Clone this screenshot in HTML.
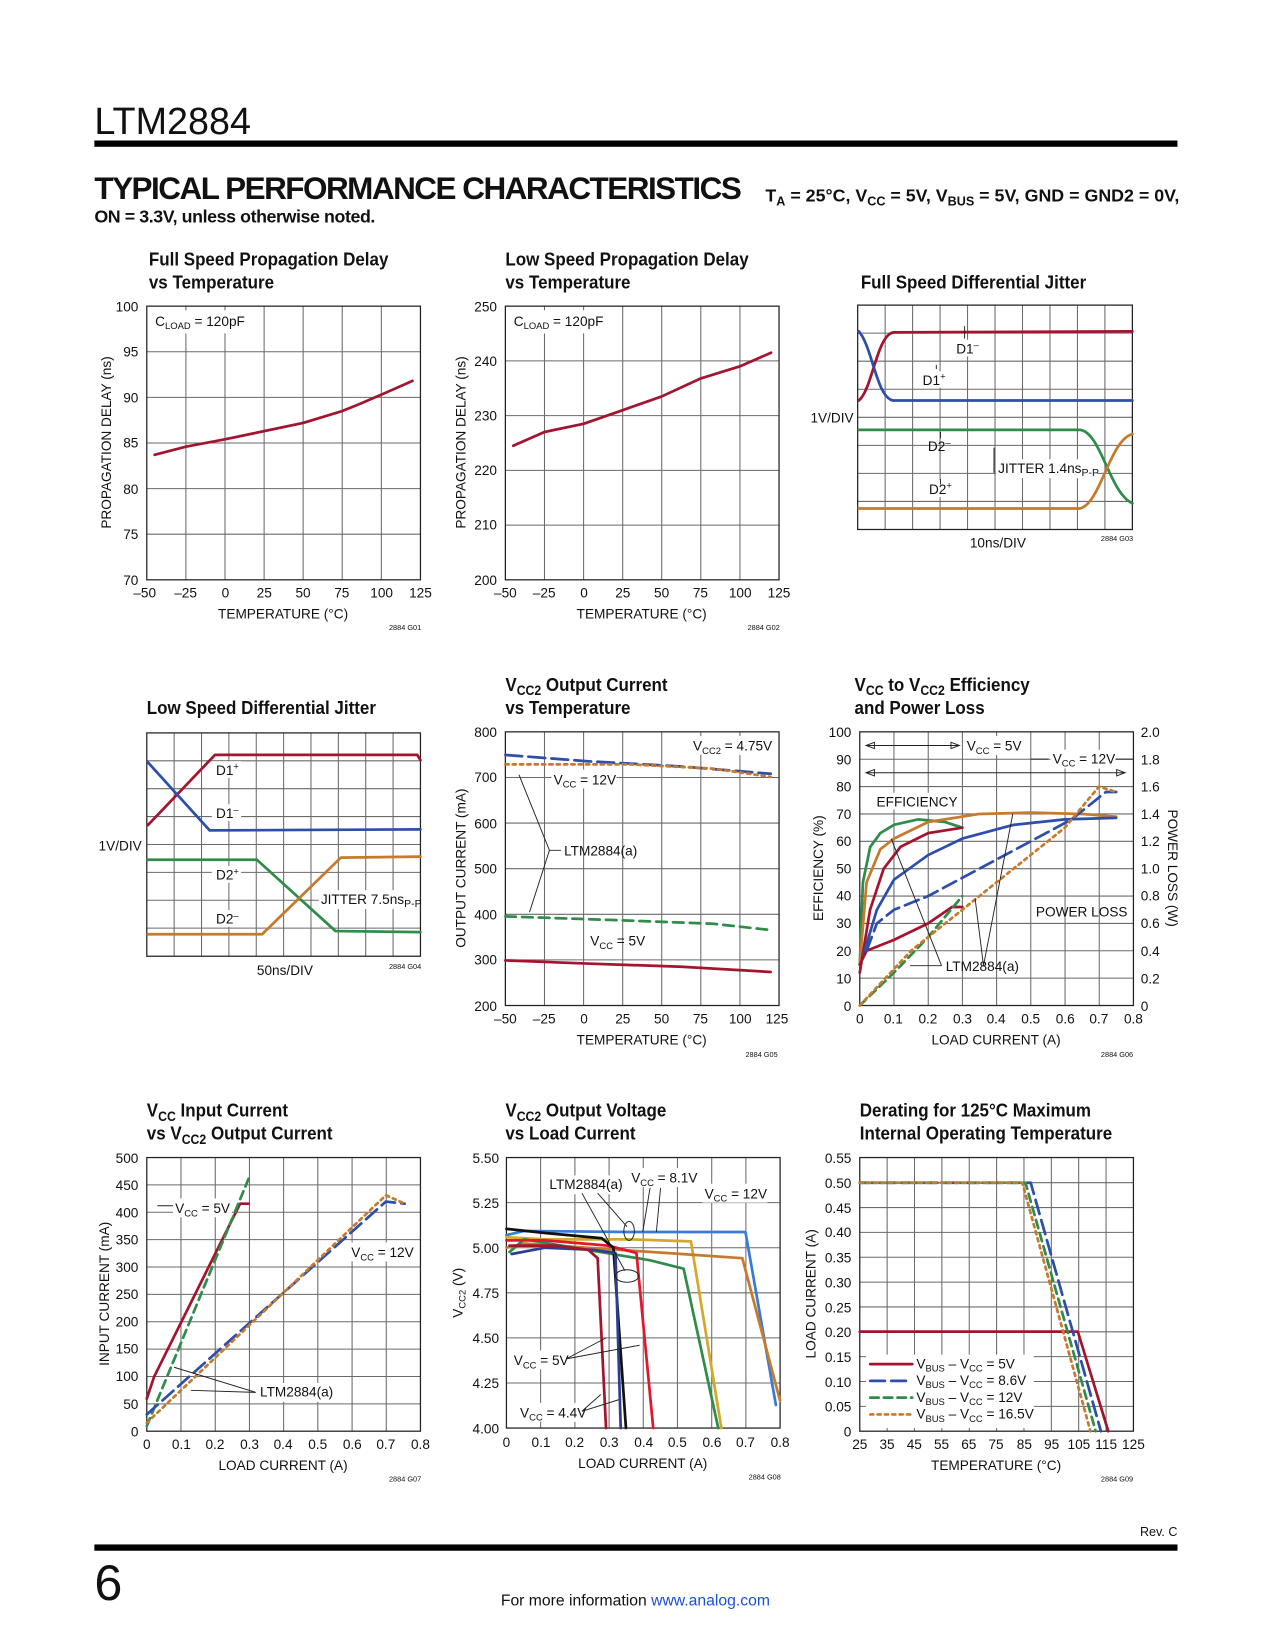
<!DOCTYPE html>
<html><head><meta charset="utf-8"><style>
html,body{margin:0;padding:0;background:#fff}
svg{display:block}
text{font-family:"Liberation Sans Narrow","Liberation Sans",sans-serif;fill:#111}
.t{font-weight:bold;font-size:18px}
.tk{font-size:13px}
.lb{font-size:13px}
.sm{font-size:7px}
.g{stroke:#6a6a6a;stroke-width:1;fill:none}
.f{stroke:#222;stroke-width:1.2;fill:none}
.c{fill:none;stroke-width:2.6;stroke-linejoin:round;stroke-linecap:round}
.r{stroke:#a3152f}.b{stroke:#2d4eaa}.gr{stroke:#2f8c49}.o{stroke:#c67a2c}
.a{stroke:#222;stroke-width:0.9;fill:none}
</style></head><body>
<svg width="1275" height="1650" viewBox="0 0 1275 1650" xmlns="http://www.w3.org/2000/svg">
<g transform="scale(1.0485)">
<text x="90" y="128" style="font-family:'Liberation Sans',sans-serif;font-size:36px">LTM2884</text>
<rect x="90" y="134" width="1033" height="6" fill="#000"/>
<text x="90" y="190" style="font-family:'Liberation Sans',sans-serif;font-weight:900;font-size:30px;letter-spacing:0.5px" textLength="618">TYPICAL PERFORMANCE CHARACTERISTICS</text>
<text x="730" y="192" style="font-weight:bold;font-size:17px">T<tspan font-size="12" dy="4">A</tspan><tspan dy="-4"> = 25°C, V</tspan><tspan font-size="12" dy="4">CC</tspan><tspan dy="-4"> = 5V, V</tspan><tspan font-size="12" dy="4">BUS</tspan><tspan dy="-4"> = 5V, GND = GND2 = 0V,</tspan></text>
<text x="90" y="212" style="font-weight:bold;font-size:17px" textLength="268">ON = 3.3V, unless otherwise noted.</text>

<!-- Chart 1 -->
<text class="t" x="142" y="253" transform="matrix(0.9 0 0 1 14.2 0)">Full Speed Propagation Delay</text>
<text class="t" x="142" y="275" transform="matrix(0.9 0 0 1 14.2 0)">vs Temperature</text>
<path class="g" d="M177.3 292V553M214.6 292V553M251.9 292V553M289.1 292V553M326.4 292V553M363.7 292V553M140 509.5H401M140 466H401M140 422.5H401M140 379H401M140 335.5H401"/>
<rect class="f" x="140" y="292" width="261" height="261"/>
<rect x="144" y="296" width="92" height="22" fill="#fff"/>
<text class="lb" x="148" y="311">C<tspan font-size="9" dy="3">LOAD</tspan><tspan dy="-3"> = 120pF</tspan></text>
<polyline class="c r" points="147.5,433.8 177.3,426 214.6,419 251.9,411.2 289.1,403.4 326.4,392 341.3,386 363.7,376.4 393.4,363.3"/>
<g class="tk" text-anchor="end"><text x="132" y="297">100</text><text x="132" y="340">95</text><text x="132" y="384">90</text><text x="132" y="427">85</text><text x="132" y="471">80</text><text x="132" y="514">75</text><text x="132" y="558">70</text></g>
<g class="tk" text-anchor="middle"><text x="138" y="570">–50</text><text x="177" y="570">–25</text><text x="215" y="570">0</text><text x="252" y="570">25</text><text x="289" y="570">50</text><text x="326" y="570">75</text><text x="364" y="570">100</text><text x="401" y="570">125</text>
<text x="270" y="590">TEMPERATURE (°C)</text></g>
<text class="lb" transform="translate(106,422) rotate(-90)" text-anchor="middle" font-size="12">PROPAGATION DELAY (ns)</text>
<text class="sm" x="371" y="601">2884 G01</text>

<!-- Chart 2 -->
<text class="t" x="482" y="253" transform="matrix(0.9 0 0 1 48.2 0)">Low Speed Propagation Delay</text>
<text class="t" x="482" y="275" transform="matrix(0.9 0 0 1 48.2 0)">vs Temperature</text>
<path class="g" d="M519.3 292V553M556.6 292V553M593.9 292V553M631.1 292V553M668.4 292V553M705.7 292V553M482 500.8H743M482 448.6H743M482 396.4H743M482 344.2H743"/>
<rect class="f" x="482" y="292" width="261" height="261"/>
<rect x="486" y="296" width="92" height="22" fill="#fff"/>
<text class="lb" x="490" y="311">C<tspan font-size="9" dy="3">LOAD</tspan><tspan dy="-3"> = 120pF</tspan></text>
<polyline class="c r" points="489.5,425.1 519.3,412 556.6,404.2 593.9,391.2 631.1,378.1 668.4,360.9 705.7,349.4 735.4,336.4"/>
<g class="tk" text-anchor="end"><text x="474" y="297">250</text><text x="474" y="349">240</text><text x="474" y="401">230</text><text x="474" y="453">220</text><text x="474" y="505">210</text><text x="474" y="558">200</text></g>
<g class="tk" text-anchor="middle"><text x="482" y="570">–50</text><text x="519" y="570">–25</text><text x="557" y="570">0</text><text x="594" y="570">25</text><text x="631" y="570">50</text><text x="668" y="570">75</text><text x="706" y="570">100</text><text x="743" y="570">125</text>
<text x="612" y="590">TEMPERATURE (°C)</text></g>
<text class="lb" transform="translate(444,422) rotate(-90)" text-anchor="middle" font-size="12">PROPAGATION DELAY (ns)</text>
<text class="sm" x="713" y="601">2884 G02</text>

<!-- Chart 3 -->
<text class="t" x="821" y="275" transform="matrix(0.9 0 0 1 82.1 0)">Full Speed Differential Jitter</text>
<path class="g" d="M844.2 291V505M870.4 291V505M896.6 291V505M922.8 291V505M949 291V505M975.2 291V505M1001.4 291V505M1027.6 291V505M1053.8 291V505M818 317.75H1080M818 344.5H1080M818 371.25H1080M818 398H1080M818 424.75H1080M818 451.5H1080M818 478.25H1080"/>
<rect class="f" x="818" y="291" width="262" height="214"/>
<path class="c r" d="M819 382C832 372 836 320 852 317L1080 316"/>
<path class="c b" d="M819 316C832 330 836 380 852 382L1080 382"/>
<path class="c gr" d="M819 410L1030 410C1050 412 1058 470 1080 480"/>
<path class="c o" d="M819 485L1030 485C1050 480 1058 420 1080 414"/>
<rect x="908" y="324" width="28" height="16" fill="#fff"/><text class="lb" x="912" y="337">D1<tspan font-size="9" dy="-5">–</tspan></text>
<rect x="876" y="354" width="28" height="16" fill="#fff"/><text class="lb" x="880" y="367">D1<tspan font-size="9" dy="-5">+</tspan></text>
<text class="lb" x="885" y="430">D2<tspan font-size="9" dy="-5">–</tspan></text>
<rect x="882" y="458" width="28" height="16" fill="#fff"/><text class="lb" x="886" y="471">D2<tspan font-size="9" dy="-5">+</tspan></text>
<rect x="950" y="438" width="96" height="18" fill="#fff"/><text class="lb" x="952" y="451">JITTER 1.4ns<tspan font-size="10" dy="3">P-P</tspan></text>
<path class="a" d="M920 323V311M893 352V348M897 418V412M897 457V462M948 451V427"/>
<text class="lb" x="773" y="403">1V/DIV</text>
<text class="lb" x="925" y="522">10ns/DIV</text>
<text class="sm" x="1050" y="516">2884 G03</text>

<!-- Chart 4 -->
<text class="t" x="140" y="681" transform="matrix(0.9 0 0 1 14 0)">Low Speed Differential Jitter</text>
<path class="g" d="M166.1 699V912M192.2 699V912M218.3 699V912M244.4 699V912M270.5 699V912M296.6 699V912M322.7 699V912M348.8 699V912M374.9 699V912M140 725.6H401M140 752.2H401M140 778.8H401M140 805.4H401M140 832H401M140 858.6H401M140 885.2H401"/>
<rect class="f" x="140" y="699" width="261" height="213"/>
<path class="c r" d="M141 787L205 720L398 720L401 725"/>
<path class="c b" d="M141 727L200 792L401 791"/>
<path class="c gr" d="M141 820L245 820L320 888L401 889"/>
<path class="c o" d="M141 891L250 891L325 818L401 817"/>
<rect x="202" y="726" width="28" height="16" fill="#fff"/><text class="lb" x="206" y="739">D1<tspan font-size="9" dy="-5">+</tspan></text>
<rect x="202" y="767" width="28" height="16" fill="#fff"/><text class="lb" x="206" y="780">D1<tspan font-size="9" dy="-5">–</tspan></text>
<rect x="202" y="826" width="28" height="16" fill="#fff"/><text class="lb" x="206" y="839">D2<tspan font-size="9" dy="-5">+</tspan></text>
<rect x="202" y="868" width="28" height="16" fill="#fff"/><text class="lb" x="206" y="881">D2<tspan font-size="9" dy="-5">–</tspan></text>
<rect x="304" y="849" width="96" height="18" fill="#fff"/><text class="lb" x="306" y="862">JITTER 7.5ns<tspan font-size="10" dy="3">P-P</tspan></text>
<text class="lb" x="94" y="811">1V/DIV</text>
<text class="lb" x="245" y="930">50ns/DIV</text>
<text class="sm" x="371" y="924">2884 G04</text>

<!-- Chart 5 -->
<text class="t" x="482" y="659" transform="matrix(0.9 0 0 1 48.2 0)">V<tspan font-size="13" dy="4">CC2</tspan><tspan dy="-4"> Output Current</tspan></text>
<text class="t" x="482" y="681" transform="matrix(0.9 0 0 1 48.2 0)">vs Temperature</text>
<path class="g" d="M519.3 698V959M556.6 698V959M593.9 698V959M631.1 698V959M668.4 698V959M705.7 698V959M482 915.5H743M482 872H743M482 828.5H743M482 785H743M482 741.5H743"/>
<rect class="f" x="482" y="698" width="261" height="261"/>
<polyline class="c b" stroke-dasharray="16,6" points="482,720 560,726 650,731 735,738"/>
<polyline class="c o" stroke-dasharray="3,4" points="482,729 600,729 680,733 735,741"/>
<polyline class="c gr" stroke-dasharray="10,6" points="482,874 600,878 680,881 735,887"/>
<polyline class="c r" points="482,916 560,919 650,922 735,927"/>
<rect x="659" y="702" width="78" height="18" fill="#fff"/><text class="lb" x="661" y="716">V<tspan font-size="9" dy="3">CC2</tspan><tspan dy="-3"> = 4.75V</tspan></text>
<rect x="526" y="734" width="62" height="18" fill="#fff"/><text class="lb" x="528" y="748">V<tspan font-size="9" dy="3">CC</tspan><tspan dy="-3"> = 12V</tspan></text>
<text class="lb" x="538" y="816">LTM2884(a)</text>
<text class="lb" x="563" y="902">V<tspan font-size="9" dy="3">CC</tspan><tspan dy="-3"> = 5V</tspan></text>
<path class="a" d="M535 811H524L495 739M524 811L505 870"/>
<g class="tk" text-anchor="end"><text x="474" y="703">800</text><text x="474" y="746">700</text><text x="474" y="790">600</text><text x="474" y="833">500</text><text x="474" y="877">400</text><text x="474" y="920">300</text><text x="474" y="964">200</text></g>
<g class="tk" text-anchor="middle"><text x="482" y="976">–50</text><text x="519" y="976">–25</text><text x="557" y="976">0</text><text x="594" y="976">25</text><text x="631" y="976">50</text><text x="668" y="976">75</text><text x="706" y="976">100</text><text x="741" y="976">125</text>
<text x="612" y="996">TEMPERATURE (°C)</text></g>
<text class="lb" transform="translate(444,828) rotate(-90)" text-anchor="middle" font-size="12">OUTPUT CURRENT (mA)</text>
<text class="sm" x="711" y="1008">2884 G05</text>

<!-- Chart 6 -->
<text class="t" x="815" y="659" transform="matrix(0.9 0 0 1 81.5 0)">V<tspan font-size="13" dy="4">CC</tspan><tspan dy="-4"> to V</tspan><tspan font-size="13" dy="4">CC2</tspan><tspan dy="-4"> Efficiency</tspan></text>
<text class="t" x="815" y="681" transform="matrix(0.9 0 0 1 81.5 0)">and Power Loss</text>
<path class="g" d="M852.6 698V959M885.3 698V959M917.9 698V959M950.5 698V959M983.1 698V959M1015.8 698V959M1048.4 698V959M820 932.9H1081M820 906.8H1081M820 880.7H1081M820 854.6H1081M820 828.5H1081M820 802.4H1081M820 776.3H1081M820 750.2H1081M820 724.1H1081"/>
<rect class="f" x="820" y="698" width="261" height="261"/>
<rect x="920" y="702" width="56" height="18" fill="#fff"/><text class="lb" x="922" y="716">V<tspan font-size="9" dy="3">CC</tspan><tspan dy="-3"> = 5V</tspan></text>
<rect x="1002" y="715" width="62" height="18" fill="#fff"/><text class="lb" x="1004" y="728">V<tspan font-size="9" dy="3">CC</tspan><tspan dy="-3"> = 12V</tspan></text>
<path class="a" d="M826 711H915M826 711l8-3v6zM915 711l-8-3v6zM826 737H1073M826 737l8-3v6zM1073 737l-8-3v6zM1064 724H1081M983 724H1000"/>
<rect x="834" y="756" width="70" height="16" fill="#fff"/><text class="lb" x="836" y="769">EFFICIENCY</text>
<text class="lb" x="988" y="874">POWER LOSS</text>
<text class="lb" x="902" y="926">LTM2884(a)</text>
<polyline class="c gr" points="820,920 823,841.5 830,807.6 839.6,794.6 852.6,786.7 875.4,781.5 901.5,784 917.8,789.4"/>
<polyline class="c o" points="820,920 826.5,841.5 839.6,810 852.6,799.8 885.2,784 934.1,776.3 983,775 1031.9,776.3 1064.5,779"/>
<polyline class="c r" points="820,927.7 829.8,867.7 842.8,828.5 859,807.6 885.2,794.6 917.8,789.4"/>
<polyline class="c b" points="823,912 836.3,867.7 852.6,839 885.2,815.5 917.8,799.8 966.7,786.7 1015.6,781.5 1064.5,780"/>
<polyline class="c r" points="820,920 826.5,906.8 852.6,896.4 885.2,880.7 908,865 917.8,865"/>
<polyline class="c b" stroke-dasharray="14,6" points="826.5,906.8 836.3,880.7 852.6,867.7 885.2,854.6 934.1,828.5 983,802.4 1022,781.5 1054.7,755.4 1064.5,755.4"/>
<polyline class="c gr" stroke-dasharray="8,5" points="820,959 852.6,927.7 885.2,893.8 917.8,854.6"/>
<polyline class="c o" stroke-dasharray="3,4" points="820,959 868.9,906.8 917.8,867.7 966.7,828.5 1015.6,789.4 1048.2,750.2 1064.5,755.4"/>
<path class="a" d="M898 921H868M898 921L850 800M938 921L966 776M938 921L930 857"/>
<g class="tk" text-anchor="end"><text x="812" y="703">100</text><text x="812" y="729">90</text><text x="812" y="755">80</text><text x="812" y="781">70</text><text x="812" y="807">60</text><text x="812" y="833">50</text><text x="812" y="859">40</text><text x="812" y="885">30</text><text x="812" y="912">20</text><text x="812" y="938">10</text><text x="812" y="964">0</text></g>
<g class="tk"><text x="1088" y="703">2.0</text><text x="1088" y="729">1.8</text><text x="1088" y="755">1.6</text><text x="1088" y="781">1.4</text><text x="1088" y="807">1.2</text><text x="1088" y="833">1.0</text><text x="1088" y="859">0.8</text><text x="1088" y="885">0.6</text><text x="1088" y="912">0.4</text><text x="1088" y="938">0.2</text><text x="1088" y="964">0</text></g>
<g class="tk" text-anchor="middle"><text x="820" y="976">0</text><text x="852" y="976">0.1</text><text x="885" y="976">0.2</text><text x="918" y="976">0.3</text><text x="950" y="976">0.4</text><text x="983" y="976">0.5</text><text x="1016" y="976">0.6</text><text x="1048" y="976">0.7</text><text x="1081" y="976">0.8</text>
<text x="950" y="996">LOAD CURRENT (A)</text></g>
<text class="lb" transform="translate(785,828) rotate(-90)" text-anchor="middle" font-size="12">EFFICIENCY (%)</text>
<text class="lb" transform="translate(1114,828) rotate(90)" text-anchor="middle" font-size="12">POWER LOSS (W)</text>
<text class="sm" x="1050" y="1008">2884 G06</text>

<!-- Chart 7 -->
<text class="t" x="140" y="1065" transform="matrix(0.9 0 0 1 14 0)">V<tspan font-size="13" dy="4">CC</tspan><tspan dy="-4"> Input Current</tspan></text>
<text class="t" x="140" y="1087" transform="matrix(0.9 0 0 1 14 0)">vs V<tspan font-size="13" dy="4">CC2</tspan><tspan dy="-4"> Output Current</tspan></text>
<path class="g" d="M172.6 1104V1365M205.3 1104V1365M237.9 1104V1365M270.5 1104V1365M303.1 1104V1365M335.8 1104V1365M368.4 1104V1365M140 1338.9H401M140 1312.8H401M140 1286.7H401M140 1260.6H401M140 1234.5H401M140 1208.4H401M140 1182.3H401M140 1156.2H401M140 1130.1H401"/>
<rect class="f" x="140" y="1104" width="261" height="261"/>
<polyline class="c r" points="140,1334 147,1313 229,1148 237,1148"/>
<polyline class="c gr" stroke-dasharray="8,5" points="140,1360 238,1122"/>
<polyline class="c b" stroke-dasharray="14,6" points="140,1349 368,1146 386,1148"/>
<polyline class="c o" stroke-dasharray="3,4" points="140,1357 368,1140 386,1148"/>
<rect x="165" y="1143" width="56" height="18" fill="#fff"/><text class="lb" x="167" y="1157">V<tspan font-size="9" dy="3">CC</tspan><tspan dy="-3"> = 5V</tspan></text>
<rect x="333" y="1185" width="62" height="18" fill="#fff"/><text class="lb" x="335" y="1199">V<tspan font-size="9" dy="3">CC</tspan><tspan dy="-3"> = 12V</tspan></text>
<rect x="246" y="1319" width="70" height="18" fill="#fff"/><text class="lb" x="248" y="1332">LTM2884(a)</text>
<path class="a" d="M244 1328L166 1304M244 1328L182 1326M150 1150H165"/>
<g class="tk" text-anchor="end"><text x="132" y="1109">500</text><text x="132" y="1135">450</text><text x="132" y="1161">400</text><text x="132" y="1187">350</text><text x="132" y="1213">300</text><text x="132" y="1239">250</text><text x="132" y="1265">200</text><text x="132" y="1291">150</text><text x="132" y="1317">100</text><text x="132" y="1344">50</text><text x="132" y="1370">0</text></g>
<g class="tk" text-anchor="middle"><text x="140" y="1382">0</text><text x="173" y="1382">0.1</text><text x="205" y="1382">0.2</text><text x="238" y="1382">0.3</text><text x="270" y="1382">0.4</text><text x="303" y="1382">0.5</text><text x="336" y="1382">0.6</text><text x="368" y="1382">0.7</text><text x="401" y="1382">0.8</text>
<text x="270" y="1402">LOAD CURRENT (A)</text></g>
<text class="lb" transform="translate(104,1234) rotate(-90)" text-anchor="middle" font-size="12">INPUT CURRENT (mA)</text>
<text class="sm" x="371" y="1413">2884 G07</text>

<!-- Chart 8 -->
<text class="t" x="482" y="1065" transform="matrix(0.9 0 0 1 48.2 0)">V<tspan font-size="13" dy="4">CC2</tspan><tspan dy="-4"> Output Voltage</tspan></text>
<text class="t" x="482" y="1087" transform="matrix(0.9 0 0 1 48.2 0)">vs Load Current</text>
<path class="g" d="M515.6 1104V1362M548.3 1104V1362M580.9 1104V1362M613.5 1104V1362M646.1 1104V1362M678.8 1104V1362M711.4 1104V1362M483 1319H744M483 1276H744M483 1233H744M483 1190H744M483 1147H744"/>
<rect class="f" x="483" y="1104" width="261" height="258"/>
<polyline class="c" stroke="#3a7bd5" points="483,1178 500,1174 600,1175 711,1175 740,1340"/>
<polyline class="c" stroke="#d4a82a" points="483,1180 520,1182 600,1182 659,1184 688,1362"/>
<polyline class="c o" points="483,1190 500,1186 560,1190 650,1196 708,1200 744,1336"/>
<polyline class="c gr" points="486,1194 500,1182 560,1192 620,1202 652,1210 685,1362"/>
<polyline class="c" stroke="#e0182e" points="483,1183 520,1183 580,1188 607,1195 623,1362"/>
<polyline class="c" stroke="#111" points="483,1172 520,1176 574,1181 585,1190 597,1362"/>
<polyline class="c" stroke="#2d3e8f" points="488,1196 520,1190 565,1192 587,1195 592,1362"/>
<polyline class="c r" points="486,1188 530,1188 561,1192 570,1200 578,1362"/>
<ellipse cx="600" cy="1174" rx="5" ry="9" class="a"/><ellipse cx="598" cy="1217" rx="11" ry="6" class="a"/>
<rect x="522" y="1121" width="70" height="18" fill="#fff"/><text class="lb" x="524" y="1134">LTM2884(a)</text>
<rect x="600" y="1114" width="66" height="18" fill="#fff"/><text class="lb" x="602" y="1128">V<tspan font-size="9" dy="3">CC</tspan><tspan dy="-3"> = 8.1V</tspan></text>
<rect x="670" y="1129" width="62" height="18" fill="#fff"/><text class="lb" x="672" y="1143">V<tspan font-size="9" dy="3">CC</tspan><tspan dy="-3"> = 12V</tspan></text>
<rect x="488" y="1288" width="52" height="18" fill="#fff"/><text class="lb" x="490" y="1302">V<tspan font-size="9" dy="3">CC</tspan><tspan dy="-3"> = 5V</tspan></text>
<rect x="494" y="1338" width="60" height="18" fill="#fff"/><text class="lb" x="496" y="1352">V<tspan font-size="9" dy="3">CC</tspan><tspan dy="-3"> = 4.4V</tspan></text>
<path class="a" d="M555 1138L596 1212M570 1138L598 1170M620 1133L613 1175M630 1133L626 1175M540 1296L578 1276M540 1296L610 1283M555 1346L573 1330M555 1346L590 1335"/>
<g class="tk" text-anchor="end"><text x="476" y="1109">5.50</text><text x="476" y="1152">5.25</text><text x="476" y="1195">5.00</text><text x="476" y="1238">4.75</text><text x="476" y="1281">4.50</text><text x="476" y="1324">4.25</text><text x="476" y="1367">4.00</text></g>
<g class="tk" text-anchor="middle"><text x="483" y="1380">0</text><text x="516" y="1380">0.1</text><text x="548" y="1380">0.2</text><text x="581" y="1380">0.3</text><text x="614" y="1380">0.4</text><text x="646" y="1380">0.5</text><text x="679" y="1380">0.6</text><text x="711" y="1380">0.7</text><text x="744" y="1380">0.8</text>
<text x="613" y="1400">LOAD CURRENT (A)</text></g>
<text class="lb" transform="translate(441,1233) rotate(-90)" text-anchor="middle" font-size="12">V<tspan font-size="9" dy="3">CC2</tspan><tspan dy="-3"> (V)</tspan></text>
<text class="sm" x="714" y="1411">2884 G08</text>

<!-- Chart 9 -->
<text class="t" x="820" y="1065" transform="matrix(0.9 0 0 1 82 0)">Derating for 125°C Maximum</text>
<text class="t" x="820" y="1087" transform="matrix(0.9 0 0 1 82 0)">Internal Operating Temperature</text>
<path class="g" d="M846.1 1104V1365M872.2 1104V1365M898.3 1104V1365M924.4 1104V1365M950.5 1104V1365M976.6 1104V1365M1002.7 1104V1365M1028.8 1104V1365M1054.9 1104V1365M820 1341.3H1081M820 1317.6H1081M820 1293.9H1081M820 1270.2H1081M820 1246.5H1081M820 1222.8H1081M820 1199.1H1081M820 1175.4H1081M820 1151.7H1081M820 1128H1081"/>
<rect class="f" x="820" y="1104" width="261" height="261"/>
<rect x="826" y="1292" width="160" height="70" fill="#fff"/>
<polyline class="c r" points="820,1270 1028,1270 1057,1365"/>
<polyline class="c b" stroke-dasharray="14,6" points="820,1128 983,1128 1050,1365"/>
<polyline class="c gr" stroke-dasharray="8,5" points="820,1128 978,1128 1045,1365"/>
<polyline class="c o" stroke-dasharray="3,4" points="820,1128 975,1128 1040,1365"/>
<path class="c r" d="M830 1301H870"/><path class="c b" stroke-dasharray="14,6" d="M830 1317H870"/><path class="c gr" stroke-dasharray="8,5" d="M830 1333H870"/><path class="c o" stroke-dasharray="3,4" d="M830 1349H870"/>
<g class="lb"><text x="874" y="1305">V<tspan font-size="9" dy="3">BUS</tspan><tspan dy="-3"> – V</tspan><tspan font-size="9" dy="3">CC</tspan><tspan dy="-3"> = 5V</tspan></text>
<text x="874" y="1321">V<tspan font-size="9" dy="3">BUS</tspan><tspan dy="-3"> – V</tspan><tspan font-size="9" dy="3">CC</tspan><tspan dy="-3"> = 8.6V</tspan></text>
<text x="874" y="1337">V<tspan font-size="9" dy="3">BUS</tspan><tspan dy="-3"> – V</tspan><tspan font-size="9" dy="3">CC</tspan><tspan dy="-3"> = 12V</tspan></text>
<text x="874" y="1353">V<tspan font-size="9" dy="3">BUS</tspan><tspan dy="-3"> – V</tspan><tspan font-size="9" dy="3">CC</tspan><tspan dy="-3"> = 16.5V</tspan></text></g>
<g class="tk" text-anchor="end"><text x="812" y="1109">0.55</text><text x="812" y="1133">0.50</text><text x="812" y="1157">0.45</text><text x="812" y="1180">0.40</text><text x="812" y="1204">0.35</text><text x="812" y="1228">0.30</text><text x="812" y="1252">0.25</text><text x="812" y="1275">0.20</text><text x="812" y="1299">0.15</text><text x="812" y="1323">0.10</text><text x="812" y="1346">0.05</text><text x="812" y="1370">0</text></g>
<g class="tk" text-anchor="middle"><text x="820" y="1382">25</text><text x="846" y="1382">35</text><text x="872" y="1382">45</text><text x="898" y="1382">55</text><text x="924" y="1382">65</text><text x="950" y="1382">75</text><text x="977" y="1382">85</text><text x="1003" y="1382">95</text><text x="1029" y="1382">105</text><text x="1055" y="1382">115</text><text x="1081" y="1382">125</text>
<text x="950" y="1402">TEMPERATURE (°C)</text></g>
<text class="lb" transform="translate(778,1234) rotate(-90)" text-anchor="middle" font-size="12">LOAD CURRENT (A)</text>
<text class="sm" x="1050" y="1413">2884 G09</text>

<!-- Footer -->
<text x="1123" y="1465" text-anchor="end" font-size="12">Rev. C</text>
<rect x="90" y="1473" width="1033" height="6" fill="#000"/>
<text x="90" y="1526" style="font-family:'Liberation Sans',sans-serif;font-size:48px">6</text>
<text x="606" y="1531" text-anchor="middle" font-size="15">For more information <tspan style="fill:#1a4fd6">www.analog.com</tspan></text>
</g>
</svg>
</body></html>
